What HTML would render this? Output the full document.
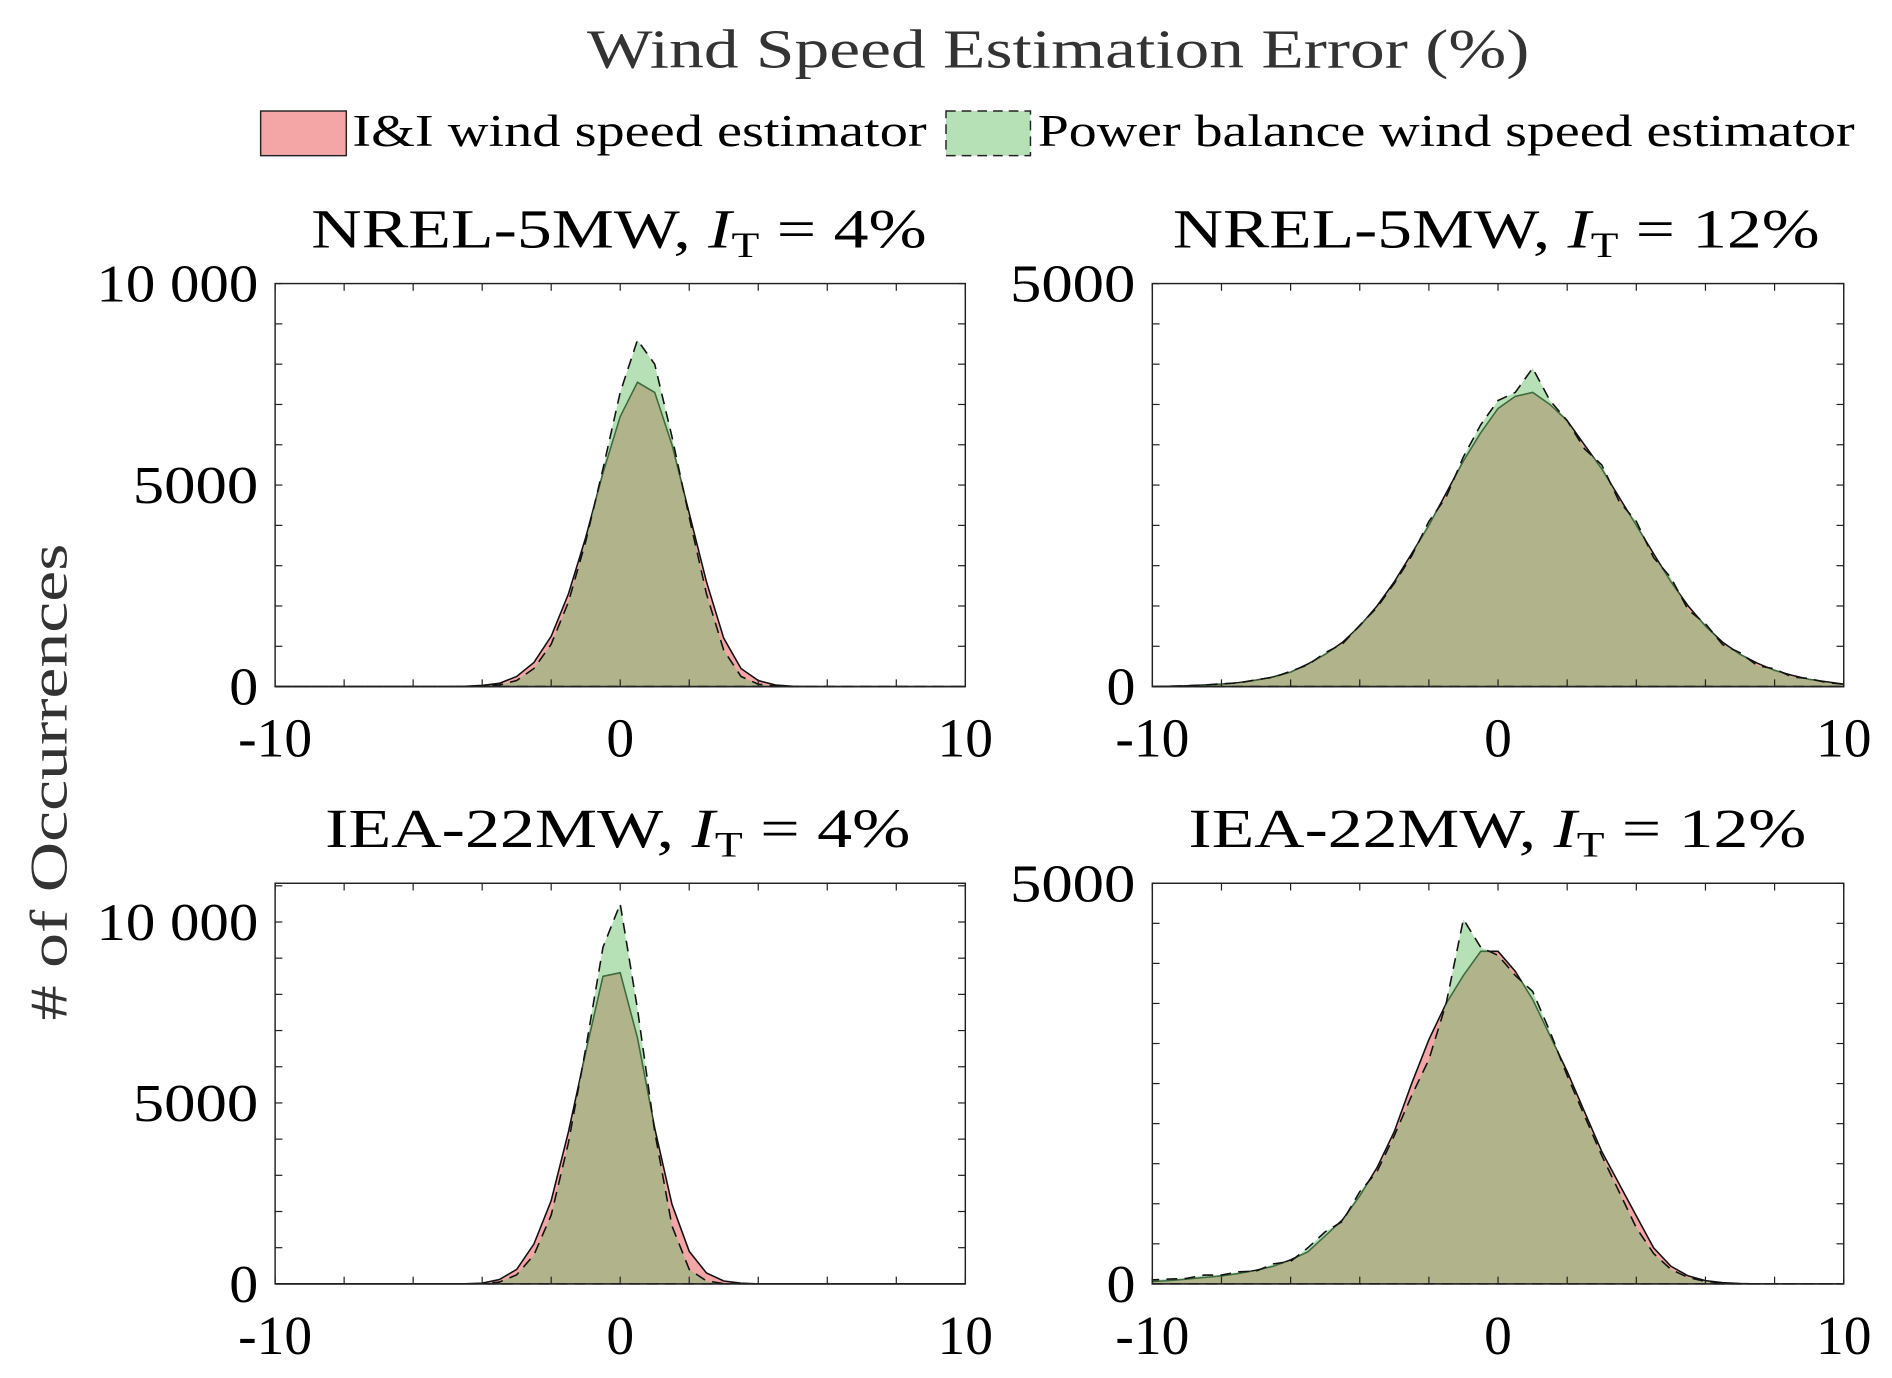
<!DOCTYPE html>
<html><head><meta charset="utf-8"><style>
html,body{margin:0;padding:0;background:#fff;}
svg{display:block;font-family:"Liberation Serif",serif;}
</style></head><body>
<svg id="fig" width="1892" height="1378" viewBox="0 0 1568 1142" preserveAspectRatio="none" xmlns="http://www.w3.org/2000/svg">
<text x="877" y="56" font-size="46" fill="#333" text-anchor="middle" textLength="781" lengthAdjust="spacingAndGlyphs">Wind Speed Estimation Error (%)</text>
<g>
<rect x="216" y="92" width="71" height="37" fill="#f4a6a6" stroke="#222" stroke-width="1.2"/>
<text x="292" y="121" font-size="38" fill="#000" textLength="476" lengthAdjust="spacingAndGlyphs">I&amp;I wind speed estimator</text>
<rect x="784" y="92" width="70" height="37" fill="#b6e0b6" stroke="#222" stroke-width="1.2" stroke-dasharray="8,5"/>
<text x="860" y="121" font-size="38" fill="#000" textLength="677" lengthAdjust="spacingAndGlyphs">Power balance wind speed estimator</text>
</g>
<text transform="translate(55,648) rotate(-90)" font-size="44" fill="#333" text-anchor="middle" textLength="395" lengthAdjust="spacingAndGlyphs"># of Occurrences</text>
<g id="panels"></g>
</svg>
<script>
const xCats = [];
for (let i = 0; i <= 40; i++) xCats.push(-10 + i * 0.5);
const xTickLabels = ["-10", "0", "10"];
const tlRed = [0,0,0,0,0,0,0,0,0,0,0,5,30,80,250,600,1250,2300,3700,5300,6700,7550,7300,6000,4300,2600,1200,450,150,40,10,0,0,0,0,0,0,0,0,0,0];
const tlGreen = [0,0,0,0,0,0,0,0,0,0,0,0,10,40,150,450,1050,2100,3600,5400,7300,8600,8000,6200,4200,2300,900,250,60,15,0,0,0,0,0,0,0,0,0,0,0];
const trRed = [0,5,10,20,30,50,80,120,180,280,400,550,750,1000,1300,1650,2000,2400,2800,3150,3450,3600,3650,3500,3300,3000,2700,2350,2000,1650,1300,1000,750,550,400,290,200,140,90,60,30];
const trGreen = [0,5,10,20,35,45,85,115,190,270,420,530,760,980,1280,1620,2050,2350,2850,3250,3550,3650,3950,3550,3300,2950,2750,2300,2050,1600,1350,950,780,520,420,260,220,120,100,50,30];
const blRed = [0,0,0,0,0,0,0,0,0,0,0,5,20,120,400,1100,2300,4200,6400,8500,8600,6800,4300,2200,900,300,80,20,0,0,0,0,0,0,0,0,0,0,0,0,0];
const blGreen = [0,0,0,0,0,0,0,0,0,0,0,0,5,50,250,800,1900,3900,6500,9300,10500,7600,4200,1600,400,80,10,0,0,0,0,0,0,0,0,0,0,0,0,0,0];
const brRed = [30,40,60,80,100,130,170,220,300,400,600,800,1100,1450,1900,2500,3050,3500,3850,4150,4150,3900,3550,3100,2650,2150,1650,1250,850,450,220,100,40,15,5,0,0,0,0,0,0];
const brGreen = [50,60,70,110,110,150,160,250,280,450,650,780,1150,1400,1850,2350,2800,3500,4550,4200,4100,3850,3650,3150,2600,2100,1600,1150,700,380,180,80,30,10,0,0,0,0,0,0,0];

const NS = "http://www.w3.org/2000/svg";
const root = document.getElementById("panels");
function mk(tag, attrs, parent) {
  const e = document.createElementNS(NS, tag);
  for (const k in attrs) e.setAttribute(k, attrs[k]);
  parent.appendChild(e);
  return e;
}
function panel(id, x0, y0, w, h, ymax, ytickStep, yLabels, title, titleX, titleW, red, green) {
  const g = mk("g", {}, root);
  
  
  const sx = v => x0 + (v + 10) / 20 * w;
  const sy = v => y0 + h - v / ymax * h;
  function area(vals, fill, dash, name) {
    let d = "M" + sx(xCats[0]) + "," + sy(0);
    vals.forEach((v, i) => { d += " L" + sx(xCats[i]).toFixed(1) + "," + sy(v).toFixed(1); });
    d += " L" + sx(xCats[xCats.length - 1]) + "," + sy(0) + " Z";
    const p = mk("path", {d: d, fill: fill, stroke: "#111", "stroke-width": 1.3}, g);
    if (dash) p.setAttribute("stroke-dasharray", "9,6");
    
    
  }
  area(red, "rgba(233,77,77,0.5)", false, "series-ii-area");
  area(green, "rgba(109,193,109,0.5)", true, "series-pb-area");
  const box = mk("rect", {x: x0, y: y0, width: w, height: h, fill: "none", stroke: "#222", "stroke-width": 1.2}, g);
  
  
  for (let v = 0; v <= ymax + 1e-6; v += ytickStep) {
    const y = sy(v);
    mk("line", {x1: x0, x2: x0 + 6, y1: y, y2: y, stroke: "#222", "stroke-width": 1}, g);
    mk("line", {x1: x0 + w, x2: x0 + w - 6, y1: y, y2: y, stroke: "#222", "stroke-width": 1}, g);
  }
  for (let v = -10; v <= 10; v += 2) {
    mk("line", {x1: sx(v), x2: sx(v), y1: y0 + h, y2: y0 + h - 6, stroke: "#222", "stroke-width": 1}, g);
    mk("line", {x1: sx(v), x2: sx(v), y1: y0, y2: y0 + 6, stroke: "#222", "stroke-width": 1}, g);
  }
  yLabels.forEach(l => {
    const t = mk("text", {x: x0 - 14, y: sy(l.v) + 15, "font-size": 44, "text-anchor": "end", textLength: l.w, lengthAdjust: "spacingAndGlyphs"}, g);
    t.textContent = l.t;
    
    
  });
  [-10, 0, 10].forEach((v, i) => {
    const t = mk("text", {x: sx(v), y: y0 + h + 58, "font-size": 46, "text-anchor": "middle"}, g);
    t.textContent = xTickLabels[i];
    
    
  });
  const tt = mk("text", {x: titleX, y: y0 - 30, "font-size": 46, "text-anchor": "middle", textLength: titleW, lengthAdjust: "spacingAndGlyphs"}, g);
  tt.innerHTML = title;
  
  
}
const t4 = m => m + ', <tspan font-style="italic">I</tspan><tspan font-size="30" dy="8">T</tspan><tspan dy="-8"> = 4%</tspan>';
const t12 = m => m + ', <tspan font-style="italic">I</tspan><tspan font-size="30" dy="8">T</tspan><tspan dy="-8"> = 12%</tspan>';
const L10 = [{v:0,t:"0",w:24},{v:5000,t:"5000",w:104},{v:10000,t:"10 000",w:134}];
const L5 = [{v:0,t:"0",w:24},{v:5000,t:"5000",w:104}];
panel("panel-nrel-4", 228, 235, 572, 334, 10000, 1000, L10, t4("NREL-5MW"), 513, 510, tlRed, tlGreen);
panel("panel-nrel-12", 955, 235, 573, 334, 5000, 500, L5, t12("NREL-5MW"), 1240, 536, trRed, trGreen);
panel("panel-iea-4", 228, 732, 572, 332, 11070, 1000, L10, t4("IEA-22MW"), 512, 485, blRed, blGreen);
panel("panel-iea-12", 955, 732, 573, 332, 5000, 500, L5, t12("IEA-22MW"), 1241, 512, brRed, brGreen);
</script>
</body></html>
